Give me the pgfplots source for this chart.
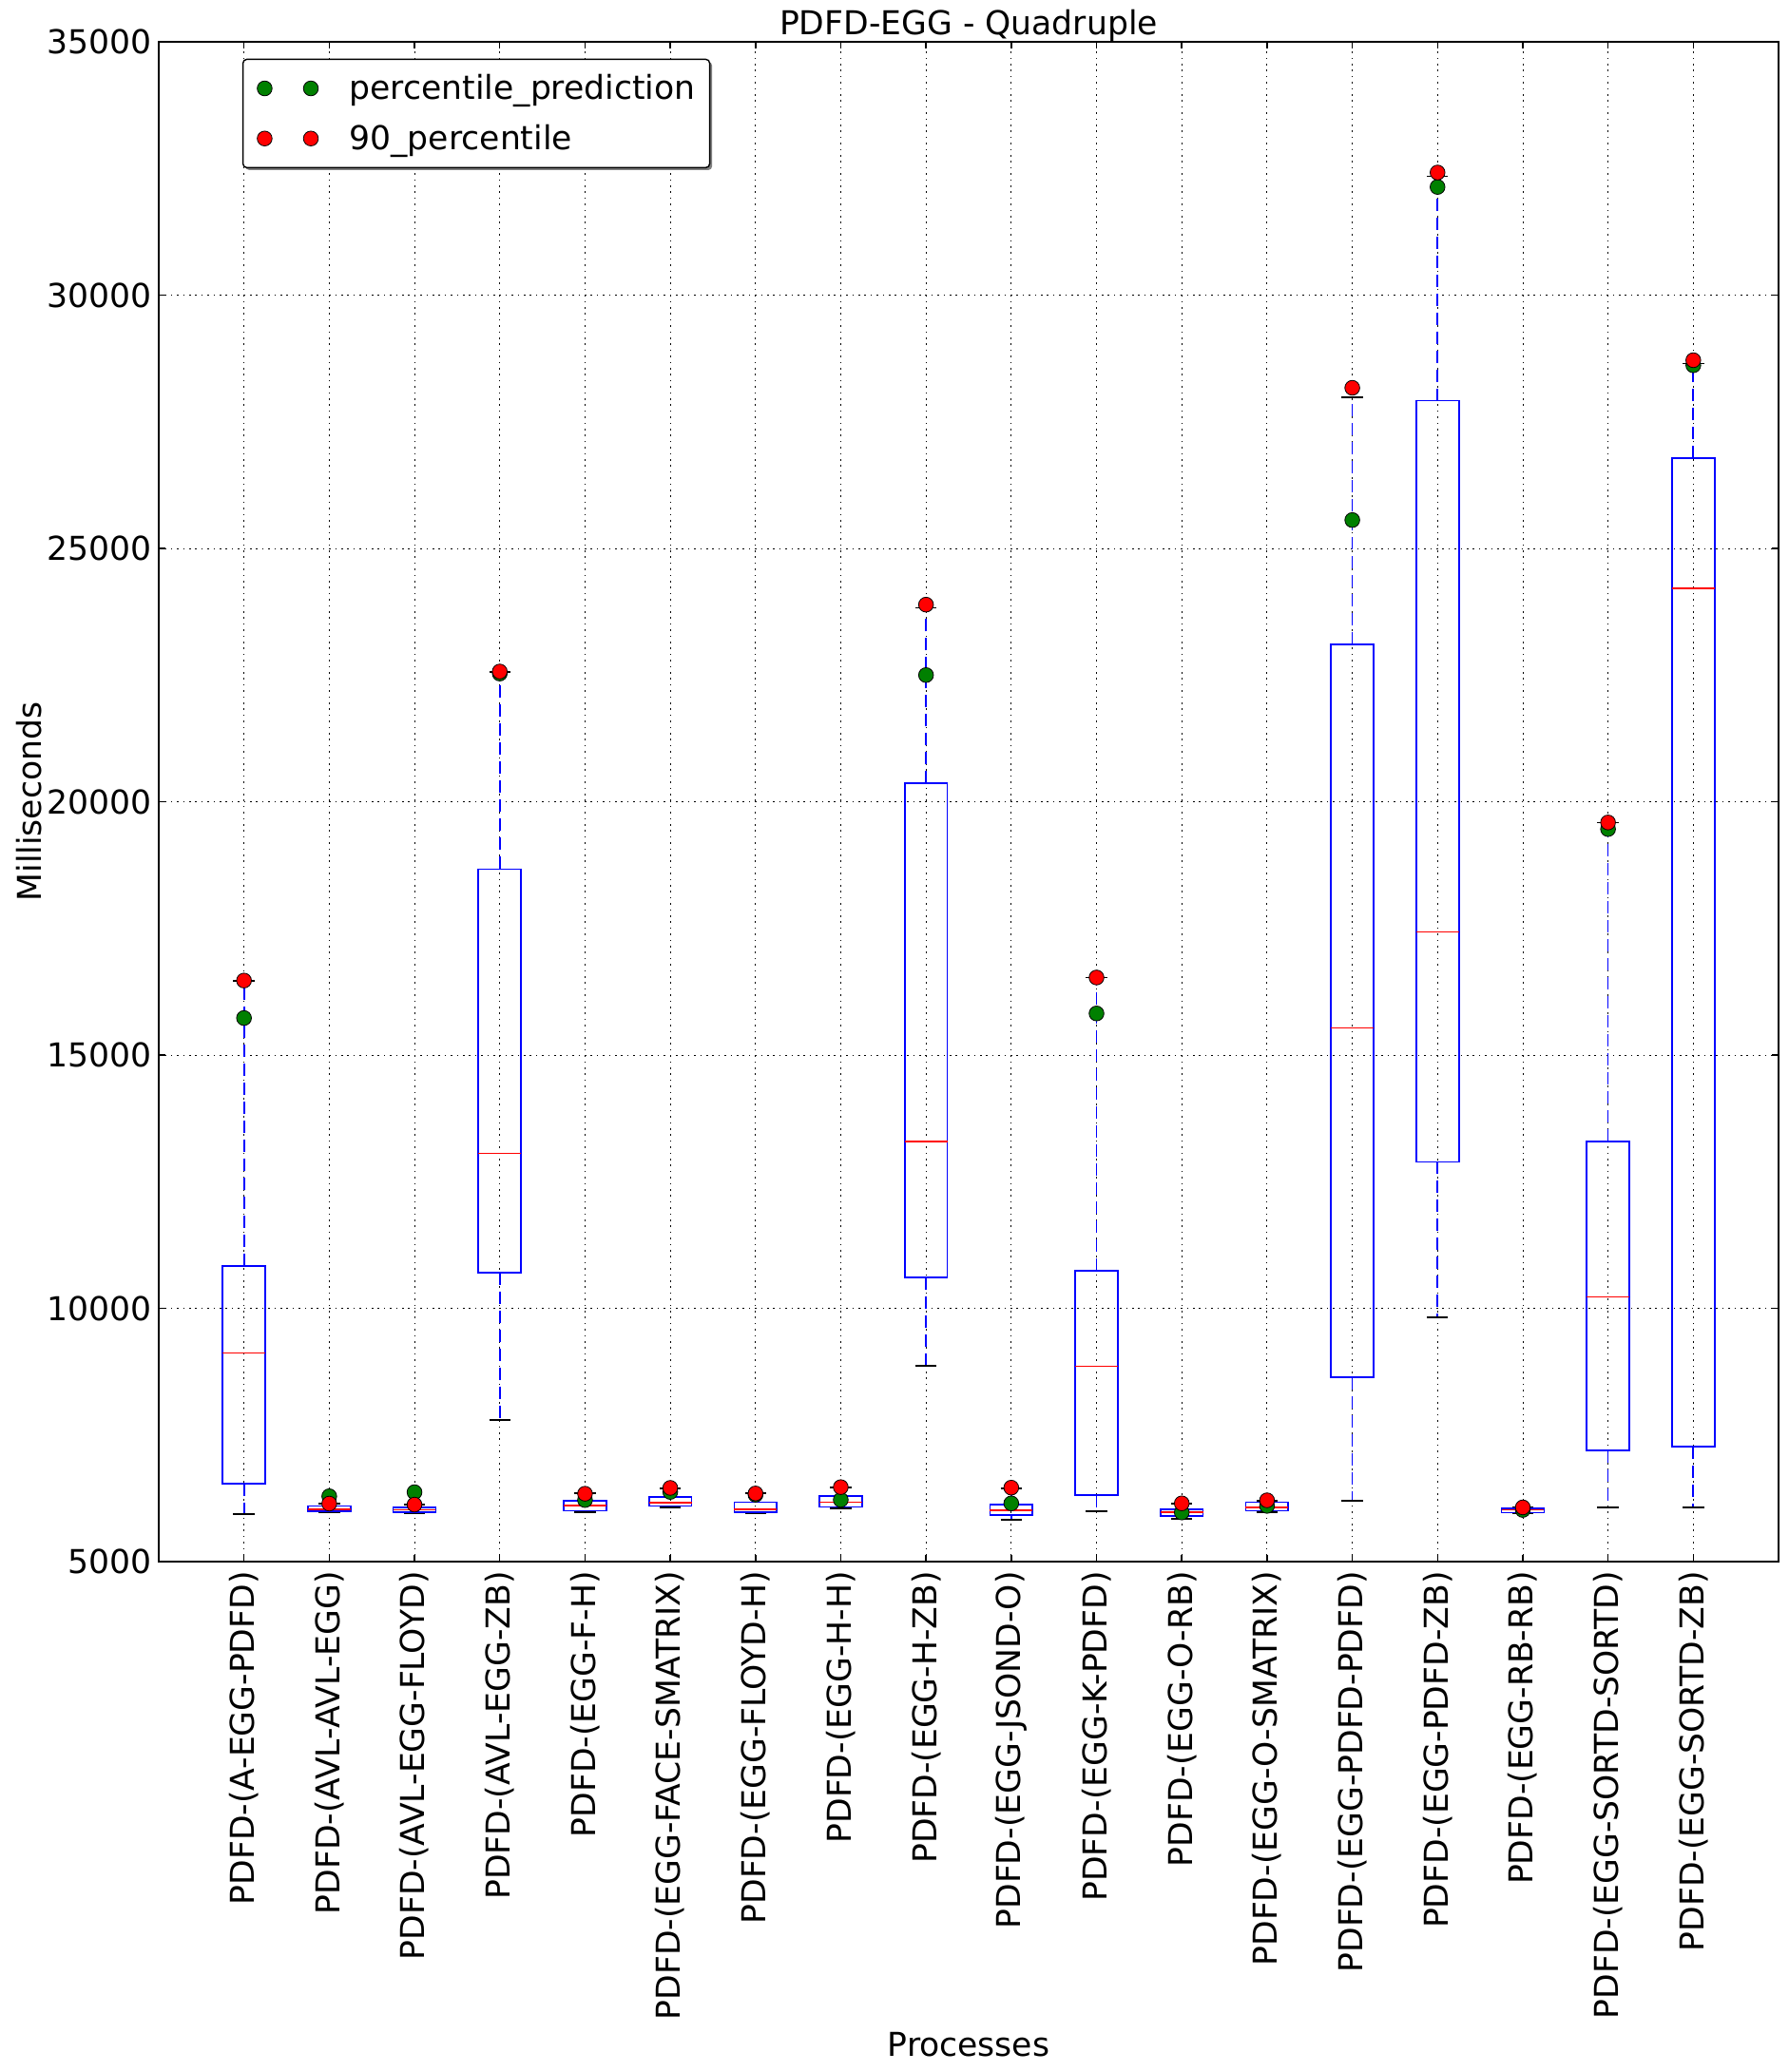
\documentclass[border=0pt]{standalone}
\usepackage{fontspec}
\setmainfont{DejaVu Sans}
\usepackage{pgfplots}
\usepackage{pgfplotstable}
\pgfplotsset{compat=1.18}
\usepgfplotslibrary{statistics}
\usetikzlibrary{shadows}

\definecolor{mplblue}{rgb}{0,0,1}
\definecolor{mplred}{rgb}{1,0,0}
\definecolor{mplgreen}{rgb}{0,0.5,0}

\newcommand{\fs}{\fontsize{17.3}{20}\selectfont}

% values in thousands of ms (boxplot maths overflows above 16383)
% one box: position, lower whisker, lower quartile, median, upper quartile, upper whisker
\newcommand{\bx}[6]{%
  \addplot[forget plot, draw=mplblue, line width=0.85pt,
    boxplot prepared={draw position=#1, lower whisker=#2, lower quartile=#3,
      median=#4, upper quartile=#5, upper whisker=#6}] coordinates {};}

% predicted and measured 90th percentile per process (thousands of ms)
\pgfplotstableread{
x  pred    p90
1  15.730  16.470
2  6.290   6.145
3  6.370   6.125
4  22.530  22.570
5  6.215   6.340
6  6.375   6.455
7  6.320   6.345
8  6.220   6.470
9  22.500  23.890
10 6.150   6.460
11 15.820  16.530
12 5.970   6.150
13 6.100   6.210
14 25.560  28.170
15 32.135  32.420
16 6.020   6.070
17 19.460  19.590
18 28.615  28.715
}\pts

\begin{document}
\begin{tikzpicture}
\useasboundingbox (-83.5pt,-268.5pt) rectangle (857pt,821.5pt);
\begin{axis}[
    at={(0,0)}, anchor=south west,
    scale only axis, width=852pt, height=799.5pt,
    xmin=0, xmax=19, ymin=5, ymax=35,
    xtick={1,...,18},
    xticklabels={PDFD-(A-EGG-PDFD),PDFD-(AVL-AVL-EGG),PDFD-(AVL-EGG-FLOYD),PDFD-(AVL-EGG-ZB),
      PDFD-(EGG-F-H),PDFD-(EGG-FACE-SMATRIX),PDFD-(EGG-FLOYD-H),PDFD-(EGG-H-H),
      PDFD-(EGG-H-ZB),PDFD-(EGG-JSOND-O),PDFD-(EGG-K-PDFD),PDFD-(EGG-O-RB),
      PDFD-(EGG-O-SMATRIX),PDFD-(EGG-PDFD-PDFD),PDFD-(EGG-PDFD-ZB),PDFD-(EGG-RB-RB),
      PDFD-(EGG-SORTD-SORTD),PDFD-(EGG-SORTD-ZB)},
    ytick={5,10,...,35},
    yticklabels={5000,10000,15000,20000,25000,30000,35000},
    tick label style={font=\fs, inner sep=0pt},
    xticklabel style={rotate=90, anchor=east},
    xticklabel shift=5pt,
    yticklabel shift=3.4pt,
    tick align=inside, tick pos=both,
    major tick length=3.5pt,
    every tick/.style={black, line width=0.75pt},
    axis line style={black, line width=0.8pt},
    grid=major,
    major grid style={black, line width=0.45pt, dash pattern=on 0.8pt off 2.4pt},
    title={PDFD-EGG - Quadruple},
    every axis title/.style={font=\fs, at={(axis description cs:0.5,1)},
      anchor=base, yshift=3.7pt, inner sep=0pt},
    xlabel={Processes},
    xlabel style={font=\fs, at={(axis description cs:0.5,-0.3258)},
      anchor=base, inner sep=0pt},
    ylabel={Milliseconds},
    ylabel style={font=\fs, at={(axis description cs:-0.0722,0.5)},
      anchor=south, inner sep=0pt},
    boxplot/draw direction=y,
    boxplot/box extend=0.5,
    boxplot/whisker extend=0.25,
    boxplot/every median/.style={draw=mplred, line width=0.65pt},
    boxplot/draw/lower whisker/.code={
      \draw[mplblue, line width=0.85pt, dash pattern=on 6.5pt off 3.5pt]
        (boxplot cs:\pgfplotsboxplotvalue{lower quartile}) -- (boxplot cs:\pgfplotsboxplotvalue{lower whisker});
      \draw[black, solid, line width=0.85pt]
        (boxplot whisker cs:\pgfplotsboxplotvalue{lower whisker},0) -- (boxplot whisker cs:\pgfplotsboxplotvalue{lower whisker},1);
    },
    boxplot/draw/upper whisker/.code={
      \draw[mplblue, line width=0.85pt, dash pattern=on 6.5pt off 3.5pt]
        (boxplot cs:\pgfplotsboxplotvalue{upper quartile}) -- (boxplot cs:\pgfplotsboxplotvalue{upper whisker});
      \draw[black, solid, line width=0.85pt]
        (boxplot whisker cs:\pgfplotsboxplotvalue{upper whisker},0) -- (boxplot whisker cs:\pgfplotsboxplotvalue{upper whisker},1);
    },
    legend image code/.code={\draw[#1] plot coordinates {(0pt,0pt) (24.3pt,0pt)};},
    legend cell align=left,
    legend style={
      at={(0.0516,0.9889)}, anchor=north west,
      draw=black, line width=0.7pt, fill=white, rounded corners=2pt,
      drop shadow={shadow xshift=1.3pt, shadow yshift=-1.3pt, fill=black!50, opacity=1},
      font=\fs,
      inner xsep=7.5pt, inner ysep=8.2pt, row sep=12.15pt, column sep=16.4pt,
      nodes={inner sep=0pt, text height=12.9pt, text depth=1.3pt},
    },
]
\bx{1}{5.935}{6.540}{9.115}{10.840}{16.470}
\bx{2}{5.980}{5.995}{6.030}{6.095}{6.140}
\bx{3}{5.960}{5.970}{6.020}{6.070}{6.130}
\bx{4}{7.790}{10.710}{13.060}{18.670}{22.560}
\bx{5}{5.975}{6.005}{6.105}{6.205}{6.345}
\bx{6}{6.070}{6.100}{6.165}{6.280}{6.450}
\bx{7}{5.955}{5.980}{6.030}{6.170}{6.345}
\bx{8}{6.050}{6.080}{6.170}{6.300}{6.470}
\bx{9}{8.860}{10.610}{13.290}{20.360}{23.830}
\bx{10}{5.830}{5.915}{6.015}{6.125}{6.445}
\bx{11}{6.000}{6.310}{8.860}{10.740}{16.530}
\bx{12}{5.845}{5.895}{5.975}{6.030}{6.150}
\bx{13}{5.975}{6.005}{6.070}{6.175}{6.205}
\bx{14}{6.205}{8.645}{15.535}{23.110}{27.985}
\bx{15}{9.820}{12.890}{17.425}{27.915}{32.345}
\bx{16}{5.950}{5.965}{6.020}{6.045}{6.070}
\bx{17}{6.070}{7.200}{10.225}{13.295}{19.585}
\bx{18}{6.070}{7.270}{24.210}{26.780}{28.650}

\addplot[only marks, mark=*, mark size=3.9pt,
  mark options={draw=black, line width=0.4pt, fill=mplgreen}]
  table[x=x, y=pred] {\pts};
\addlegendentry{percentile\_prediction}
\addplot[only marks, mark=*, mark size=3.9pt,
  mark options={draw=black, line width=0.4pt, fill=mplred}]
  table[x=x, y=p90] {\pts};
\addlegendentry{90\_percentile}
\end{axis}
\end{tikzpicture}
\end{document}
